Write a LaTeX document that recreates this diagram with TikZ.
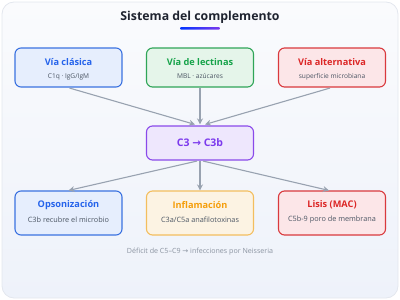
\documentclass[tikz,border=0pt]{standalone}
\usepackage{fontspec}
\setmainfont{Open Sans}
\newfontfamily\symf{DejaVu Sans}
\newcommand{\rarr}{{\symf →}}
\usetikzlibrary{arrows.meta,calc,shadings}
\definecolor{bgtop}{HTML}{FAFBFD}
\definecolor{bgbot}{HTML}{EEF2FA}
\definecolor{bgline}{HTML}{E3E7EE}
\definecolor{titlec}{HTML}{1F2430}
\definecolor{subc}{HTML}{4B5563}
\definecolor{arrowc}{HTML}{98A2B0}
\definecolor{bluet}{HTML}{2563EB}\definecolor{blueb}{HTML}{3B72E0}\definecolor{bluef}{HTML}{E6EEFD}
\definecolor{greent}{HTML}{16A34A}\definecolor{greenb}{HTML}{2FA558}\definecolor{greenf}{HTML}{E5F5EA}
\definecolor{redt}{HTML}{DC2626}\definecolor{redb}{HTML}{D9393D}\definecolor{redf}{HTML}{FCE6E8}
\definecolor{purt}{HTML}{7C3AED}\definecolor{purb}{HTML}{8A4AEA}\definecolor{purf}{HTML}{EEE7FD}
\definecolor{orat}{HTML}{F59E0B}\definecolor{orab}{HTML}{F3BE5E}\definecolor{oraf}{HTML}{FCF3E3}
\definecolor{footc}{HTML}{8A93A0}
\tikzset{
  box/.style={draw=#1b, fill=#1f, line width=1.1pt, rounded corners=6pt,
    minimum width=107pt, minimum height=39pt, inner sep=0pt},
  ttl/.style={font=\fontsize{9.2}{10}\selectfont\bfseries, text=#1t},
  sub/.style={font=\fontsize{6.6}{8}\selectfont, text=subc},
  subb/.style={font=\fontsize{7.3}{8}\selectfont, text=subc},
  conn/.style={draw=arrowc, line width=1.1pt, -{Stealth[length=6pt,width=6pt]}},
}
\begin{document}
\begin{tikzpicture}[x=1pt,y=-1pt]
\useasboundingbox (0,0) rectangle (400,300);
\shade[top color=bgtop, bottom color=bgbot, draw=bgline, line width=0.8pt, rounded corners=12pt] (2,2) rectangle (398,298);
\node[font=\fontsize{12.3}{15}\selectfont\bfseries, text=titlec] (title) at (200,17) {Sistema del complemento};
\shade[left color=blue!80!cyan, right color=purt, rounded corners=1pt] (180,27) rectangle (220,29.5);
% top row
\node[box=blue] (lc) at (68.5,67.5) {};
\node[ttl=blue] (lct) at (68.5,62) {Vía clásica};
\node[sub] (lcs) at (68.5,76.5) {C1q · IgG/IgM};
\node[box=green] (ll) at (200,67.5) {};
\node[ttl=green] (llt) at (200,62) {Vía de lectinas};
\node[sub] (lls) at (200,76.5) {MBL · azúcares};
\node[box=red] (la) at (332,67.5) {};
\node[ttl=red] (lat) at (332,62) {Vía alternativa};
\node[sub] (las) at (332,76.5) {superficie microbiana};
% center
\node[box=pur, minimum height=34pt] (c3) at (200,143) {};
\node[font=\fontsize{10.5}{12}\selectfont\bfseries, text=purt] (c3t) at (200,143) {C3 \rarr{} C3b};
% bottom row
\node[box=blue, minimum height=44pt] (op) at (68.5,213) {};
\node[ttl=blue] (opt) at (68.5,205) {Opsonización};
\node[subb] (ops) at (68.5,220) {C3b recubre el microbio};
\node[box=ora, minimum height=44pt] (in) at (200,213) {};
\node[ttl=ora] (int) at (200,205) {Inflamación};
\node[subb] (ins) at (200,220) {C3a/C5a anafilotoxinas};
\node[box=red, minimum height=44pt] (ly) at (332,213) {};
\node[ttl=red] (lyt) at (332,205) {Lisis (MAC)};
\node[subb] (lys) at (332,220) {C5b-9 poro de membrana};
% connectors
\draw[conn] ($(lc.south)+(1,0.5)$) -- ($(c3.north)+(-5,-1)$);
\draw[conn] (ll.south) -- ($(c3.north)+(0,-1)$);
\draw[conn] ($(la.south)+(-2,0.5)$) -- ($(c3.north)+(5,-1)$);
\draw[conn] ($(c3.south)+(-3,0.5)$) -- ($(op.north)+(0,0)$);
\draw[conn] (c3.south) -- (in.north);
\draw[conn] ($(c3.south)+(3,0.5)$) -- ($(ly.north)+(-3,0)$);
\node[font=\fontsize{7.1}{8}\selectfont, text=footc] (foot) at (200,251.5) {Déficit de C5–C9 \rarr{} infecciones por Neisseria};
\end{tikzpicture}
\end{document}
